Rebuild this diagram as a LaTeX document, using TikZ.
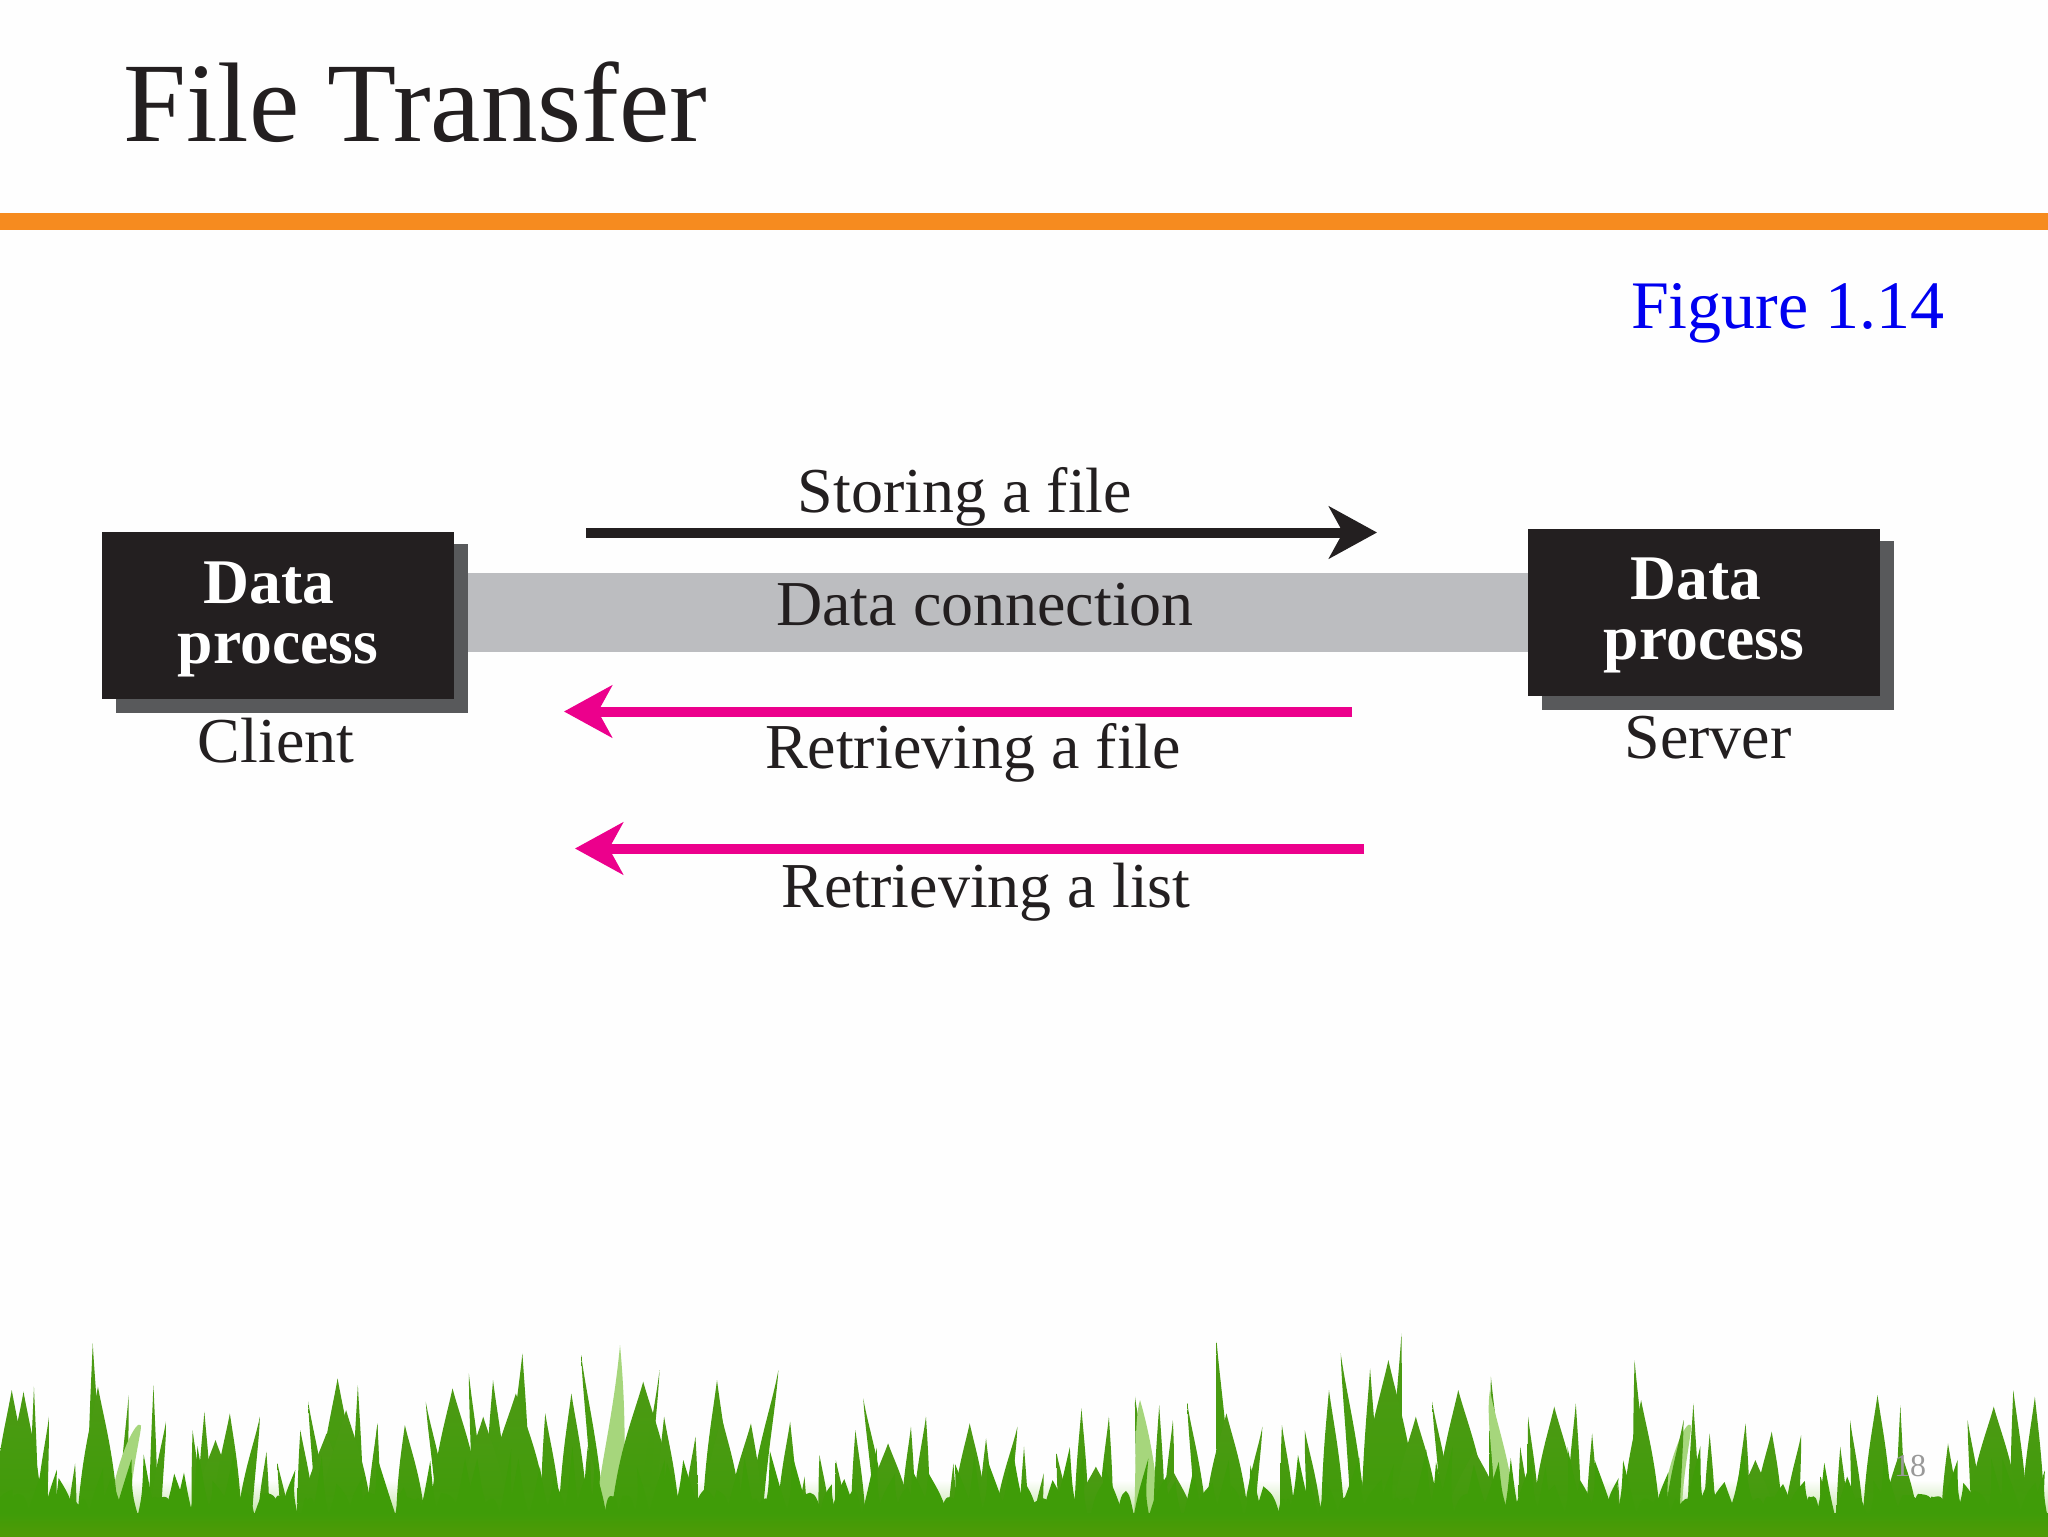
\documentclass[tikz,border=0pt]{standalone}
\usepackage{fontspec}
\setmainfont{Liberation Serif}
\usetikzlibrary{arrows.meta}
\definecolor{ink}{HTML}{231F20}
\definecolor{barorange}{HTML}{F68B1F}
\definecolor{figblue}{HTML}{0000F0}
\definecolor{barshadow}{HTML}{58595B}
\definecolor{conngray}{HTML}{BCBDC0}
\definecolor{pinkarrow}{HTML}{EC008C}
\definecolor{grassg}{HTML}{3F9C08}
\definecolor{grasstip}{HTML}{4C9A14}
\definecolor{grasspale}{HTML}{A6D67C}
\newcommand{\blades}[2]{% offset, list zx/zy/w/lean
  \foreach \zx/\zy/\w/\ln in {#2} {
    \pgfmathsetmacro{\tx}{#1+\zx*0.653}
    \pgfmathsetmacro{\ty}{1300+\zy/3}
    \pgfmathsetmacro{\bx}{\tx+\ln}
    \pgfmathsetmacro{\hw}{\w*1.5}
    \pgfmathsetmacro{\my}{(\ty+1525)/2}
    \pgfmathsetmacro{\mxl}{\bx-\hw*0.8+(\tx-\bx)*0.3}
    \pgfmathsetmacro{\mxr}{\bx+\hw*0.8+(\tx-\bx)*0.3}
    \pgfmathsetmacro{\tyy}{\ty+(1525-\ty)*0.25}
    \pgfmathsetmacro{\txx}{\tx+(\bx-\tx)*0.2}
    \shade[top color=grasstip,middle color=grassg,bottom color=grassg]
      (\bx-\hw,1525) .. controls (\mxl,\my) and (\txx-\hw*0.3,\tyy) .. (\tx,\ty)
      .. controls (\txx+\hw*0.3,\tyy) and (\mxr,\my) .. (\bx+\hw,1525) -- cycle;
  }
}
\tikzset{
  x=0.5pt,y=-0.5pt,
  procbox/.style={fill=ink,draw=none,inner sep=0pt,minimum width=176pt,minimum height=83.5pt},
  shadowbox/.style={fill=barshadow,draw=none,inner sep=0pt,minimum width=176pt,minimum height=84.5pt},
  lab/.style={anchor=base,inner sep=0pt,text=ink,font=\fontsize{32}{32}\selectfont},
  boxlab/.style={anchor=base,inner sep=0pt,text=white,font=\fontsize{31.8}{32}\selectfont\bfseries},
  flow/.style={line width=5pt,-{Stealth[length=24pt,width=26pt,inset=7pt]}},
}
\begin{document}
\begin{tikzpicture}
\useasboundingbox (0,0) rectangle (2048,1536);
\fill[white!99.5!black] (0,0) rectangle (2048,1536);

% title and rule
\node[anchor=base west,inner sep=0pt,text=ink,font=\fontsize{56.6}{57}\selectfont] (title) at (123,141) {File Transfer};
\fill[barorange] (0,213) rectangle (2048,230);
\node[anchor=base east,inner sep=0pt,text=figblue,font=\fontsize{34}{34}\selectfont] (fig) at (1945,328) {Figure 1.14};

% connection bar
\coordinate (barL) at (460,612.5);
\coordinate (barR) at (1530,612.5);
\draw[conngray,line width=39.5pt] (barL) -- (barR);
\node[lab] (conn) at (985,625) {Data connection};

% boxes
\node[shadowbox] (cshadow) at (292,628) {};
\node[procbox] (cbox) at (278,615.5) {};
\node[boxlab] (cdata) at (269,603) {Data};
\node[boxlab] (cproc) at (278,663) {process};
\node[lab] (client) at (276,762) {Client};

\node[shadowbox] (sshadow) at (1717.5,625.5) {};
\node[procbox] (sbox) at (1703.5,612.5) {};
\node[boxlab] (sdata) at (1696,599) {Data};
\node[boxlab] (sproc) at (1704,659) {process};
\node[lab] (server) at (1708,758) {Server};

% arrows
\coordinate (a1s) at (586,532.5);
\coordinate (a1e) at (1377,532.5);
\draw[flow,ink] (a1s) -- (a1e);
\node[lab] (store) at (965,512) {Storing a file};

\coordinate (a2s) at (1352,711.5);
\coordinate (a2e) at (564,711.5);
\draw[flow,pinkarrow] (a2s) -- (a2e);
\node[lab] (retf) at (973,768) {Retrieving a file};

\coordinate (a3s) at (1364,848.5);
\coordinate (a3e) at (575,848.5);
\draw[flow,pinkarrow] (a3s) -- (a3e);
\node[lab] (retl) at (986,907) {Retrieving a list};

% grass
\shade[top color=white,bottom color=grasspale!70!white] (0,1480) rectangle (2048,1516);
\blades{0}{142/130/5/2,197/285/3/-6,235/255/3/0,517/235/14/0,800/160/8/-4,718/220/4/10,890/165/4/18,1098/240/10/0,1192/210/5/-24,1322/295/4/18,578/370/4/-5,652/305/4/18,472/305/4/14,548/255/4/0}
\blades{1024}{295/125/5/8,485/160/5/18,578/100/4/-6,250/310/4/14,625/305/4/16,935/180/5/6,1307/285/10/0,1515/270/6/6,1445/360/4/10,170/290/5/10,715/230/5/6,1025/310/4/0,1342/315/3/0}
% pale blades
\foreach \px/\py/\pw/\pl in {620/1345/14/-10,140/1425/10/-20,1140/1400/12/6,1490/1390/10/14,1690/1425/10/-18}{
  \fill[grasspale] (\px+\pl-\pw,1515) .. controls (\px+\pl-\pw*0.8,1470) and (\px-\pw*0.5,1420) .. (\px,\py)
    .. controls (\px+\pw*0.5,1420) and (\px+\pl+\pw,1470) .. (\px+\pl+\pw,1515) -- cycle;
}
\blades{0}{18/270/13/0,36/275/13/0,52/260/3/0,75/350/4/-8,115/490/3/-3,150/260/14/0,255/355/4/-12,295/390/4/5,313/335/5/0,330/420/16/0,352/340/10/-3,398/350/5/-16,408/455/4/-3,425/490/3/8,460/390/6/6,500/400/18/0,530/330/18/0,578/370/4/-3,620/375/10/6,693/265/18/4,755/240/8/4,790/280/22/0,740/350/18/0,835/340/7/6,875/280/10/2,900/440/8/8,985/245/22/0,1010/210/3/-16,1017/350/8/4,1065/410/5/-5,1105/350/14/0,1150/370/12/-6,1210/365/7/-3,1232/530/3/-2,1255/465/4/5,1280/480/4/6,1310/390/5/3,1360/430/16/0,1418/350/6/-5,1395/380/5/-3,1460/490/3/-1,1485/370/12/0,1510/415/5/0,1558/380/5/-16}
\blades{1024}{0/440/3/0,30/520/3/-6,50/460/4/8,88/325/5/0,130/350/5/-3,110/500/16/0,207/315/4/0,228/360/4/-4,230/520/14/0,310/340/15/0,365/380/4/-14,395/375/5/6,430/390/5/10,467/270/8/4,530/205/6/0,558/180/20/0,600/350/16/0,665/270/18/4,690/450/20/0,760/440/4/4,772/350/4/6,812/320/16/2,845/310/5/-2,870/400/4/0,910/550/3/-3,945/300/13/0,1010/360/5/-12,1050/400/4/0,1105/370/5/-3,1145/395/10/-4,1190/405/5/-10,1120/480/14/0,1220/530/4/6,1250/440/4/2,1265/360/4/8,1342/450/12/0,1415/430/6/2,1485/320/18/0,1548/290/8/-2}
% low ragged tufts that close the foot of the grass
\pgfmathsetseed{1848}
\foreach \i in {0,...,135}{
  \pgfmathsetmacro{\gx}{\i*15.2+rnd*10}
  \pgfmathsetmacro{\gy}{1445+rnd*60}
  \pgfmathsetmacro{\gw}{8+rnd*9}
  \pgfmathsetmacro{\gl}{(rnd-0.5)*14}
  \fill[grassg] (\gx-\gw,1520) .. controls (\gx-\gw*0.45,1495) .. (\gx+\gl,\gy) .. controls (\gx+\gw*0.45,1495) .. (\gx+\gw,1520) -- cycle;
}
\shade[top color=grassg,bottom color=grassg!88!yellow!92!black] (0,1513) rectangle (2048,1536);

\node[anchor=base,inner sep=0pt,text=black!40,font=\fontsize{16}{16}\selectfont] (pageno) at (1910,1476) {18};
\end{tikzpicture}
\end{document}
